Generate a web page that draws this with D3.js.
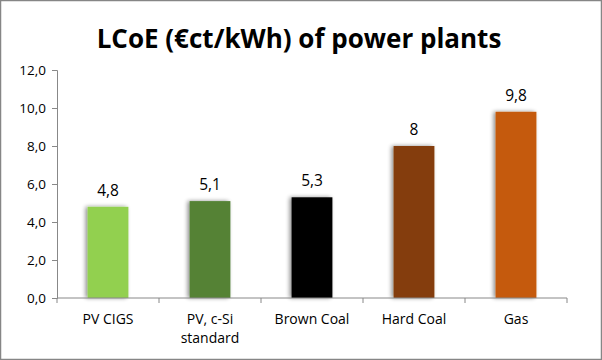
<!DOCTYPE html>
<html><head><meta charset="utf-8">
<script src="https://cdn.jsdelivr.net/npm/d3@7"></script>
<style>body{margin:0;background:#fff}svg{display:block}</style>
</head><body>
<script>
const categories = [["PV CIGS"], ["PV, c-Si", "standard"], ["Brown Coal"], ["Hard Coal"], ["Gas"]];
const values = [4.8, 5.1, 5.3, 8.0, 9.8];
const valueLabels = ["4,8", "5,1", "5,3", "8", "9,8"];
const colors = ["#92D050", "#548235", "#000000", "#843C0C", "#C55A11"];
const yTicks = [0, 2, 4, 6, 8, 10, 12];
const title = "LCoE (€ct/kWh) of power plants";

(function () {
const W = 602, H = 360;
const svg = d3.select("body").append("svg").attr("width", W).attr("height", H);
const font = "Open Sans, sans-serif";

svg.append("rect").attr("x", 0.5).attr("y", 0.5).attr("width", W - 1).attr("height", H - 1)
  .attr("fill", "#fff").attr("stroke", "#868686").attr("stroke-width", 1.5);

svg.append("text").attr("x", 299).attr("y", 48).attr("text-anchor", "middle")
  .attr("font-family", font).attr("font-weight", "bold").attr("font-size", 26)
  .attr("fill", "#000").text(title);

const pl = 57, pr = 567, pt = 70, pb = 298;
const x = d3.scaleBand().domain(d3.range(values.length)).range([pl, pr]).paddingInner(0.6).paddingOuter(0.3);
const y = d3.scaleLinear().domain([0, 12]).range([pb, pt]);

const defs = svg.append("defs");
const f = defs.append("filter").attr("id", "sh").attr("x", "-30%").attr("y", "-10%").attr("width", "160%").attr("height", "120%");
f.append("feGaussianBlur").attr("in", "SourceAlpha").attr("stdDeviation", 2.2);
f.append("feOffset").attr("dx", -2).attr("dy", 0).attr("result", "b");
f.append("feComponentTransfer").append("feFuncA").attr("type", "linear").attr("slope", 0.45);
const m = f.append("feMerge"); m.append("feMergeNode"); m.append("feMergeNode").attr("in", "SourceGraphic");

svg.append("g").selectAll("rect").data(values).join("rect")
  .attr("x", (d, i) => x(i)).attr("width", x.bandwidth())
  .attr("y", d => y(d)).attr("height", d => y(0) - y(d))
  .attr("fill", (d, i) => colors[i]).attr("filter", "url(#sh)");

const yAxis = d3.axisLeft(y).tickValues(yTicks).tickSize(5).tickPadding(6)
  .tickFormat(d => d3.format(".1f")(d).replace(".", ","));
const gy = svg.append("g").attr("transform", `translate(${pl},0)`).call(yAxis);
gy.selectAll("path,line").attr("stroke", "#888");
gy.selectAll("text").attr("font-family", font).attr("font-size", 13.5).attr("fill", "#000");

const gx = svg.append("g").attr("transform", `translate(0,${pb})`);
gx.append("line").attr("x1", pl).attr("x2", pr).attr("stroke", "#888");
const step = (pr - pl) / values.length;
gx.selectAll("line.t").data(d3.range(values.length + 1)).join("line").attr("class", "t")
  .attr("x1", i => pl + i * step).attr("x2", i => pl + i * step).attr("y1", 0).attr("y2", 5).attr("stroke", "#888");
gx.selectAll("text").data(categories).join("text")
  .attr("text-anchor", "middle").attr("font-family", font).attr("font-size", 14).attr("fill", "#000")
  .attr("transform", (d, i) => `translate(${x(i) + x.bandwidth() / 2},0)`)
  .each(function (d) {
    d3.select(this).selectAll("tspan").data(d).join("tspan")
      .attr("x", 0).attr("y", (t, j) => 26 + j * 19).text(t => t);
  });

svg.append("g").selectAll("text").data(values).join("text")
  .attr("x", (d, i) => x(i) + x.bandwidth() / 2).attr("y", d => y(d) - 11)
  .attr("text-anchor", "middle").attr("font-family", font).attr("font-size", 15.5).attr("fill", "#000")
  .text((d, i) => valueLabels[i]);
})();
</script>
</body></html>
